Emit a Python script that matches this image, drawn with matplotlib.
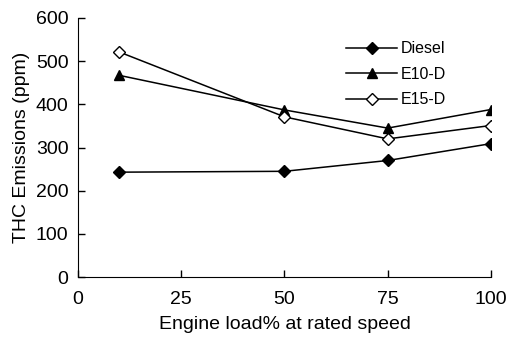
import matplotlib
matplotlib.use('Agg')
import matplotlib.pyplot as plt

plt.rcParams['font.family'] = ['Liberation Sans', 'DejaVu Sans']

load = [10, 50, 75, 100]
diesel = [243, 245, 270, 309]
e10d = [467, 387, 345, 388]
e15d = [521, 371, 320, 351]

fig = plt.figure(figsize=(5.14, 3.38), dpi=100)
ax = fig.add_axes([0.152, 0.180, 0.803, 0.767])

ax.plot(load, diesel, '-D', color='black', lw=1.1, ms=6, label='Diesel')
ax.plot(load, e10d, '-^', color='black', lw=1.1, ms=7.5, label='E10-D')
ax.plot(load, e15d, '-D', color='black', mfc='white', lw=1.1, ms=6, label='E15-D')

ax.set_xlim(0, 100)
ax.set_ylim(0, 600)
ax.set_xticks([0, 25, 50, 75, 100])
ax.set_yticks(range(0, 601, 100))
ax.tick_params(direction='in', labelsize=14, length=5, width=1)
ax.tick_params(axis='x', pad=10)
ax.tick_params(axis='y', pad=7)
ax.spines['top'].set_visible(False)
ax.spines['right'].set_visible(False)
ax.set_xlabel('Engine load% at rated speed', fontsize=14, labelpad=6)
ax.set_ylabel('THC Emissions (ppm)', fontsize=14, labelpad=4)
ax.legend(frameon=False, fontsize=11.5, loc='upper left', bbox_to_anchor=(0.615, 0.965),
          handlelength=3.2, labelspacing=0.65, handletextpad=0.2)

fig.savefig('out.png', dpi=100)
